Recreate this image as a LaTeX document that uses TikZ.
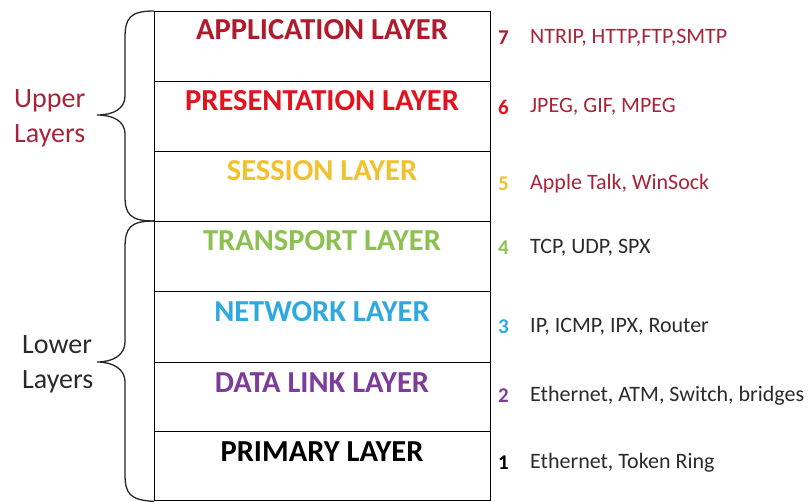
\documentclass[tikz,border=0pt]{standalone}
\usepackage{fontspec}
\setmainfont{Carlito}
\definecolor{appred}{HTML}{B01A2C}
\definecolor{presred}{HTML}{E3121E}
\definecolor{sessyel}{HTML}{F2C12E}
\definecolor{transgrn}{HTML}{8CC152}
\definecolor{netblue}{HTML}{2EA9DF}
\definecolor{linkpurp}{HTML}{7D3C98}
\definecolor{protored}{HTML}{A8243A}
\definecolor{lowgray}{HTML}{2B2B2B}
\begin{document}
\begin{tikzpicture}[x=1pt,y=-1pt,
  row/.style={draw=black, line width=1.4pt, minimum width=336pt, minimum height=70pt, inner sep=0pt, anchor=north west},
  title/.style={font=\fontsize{30.5}{32}\selectfont\bfseries, inner sep=0pt},
  num/.style={font=\fontsize{21}{23}\selectfont\bfseries, inner sep=0pt, anchor=west},
  proto/.style={font=\fontsize{22}{24}\selectfont, inner sep=0pt, anchor=west},
  side/.style={font=\fontsize{28}{35}\selectfont, align=left, inner sep=0pt, anchor=west},
  brace/.style={draw=black!85, line width=1.3pt}]
\useasboundingbox (0,0) rectangle (808,502);
\fill[white] (0,0) rectangle (808,502);

% the seven stacked layer rows
\node[row] (r7) at (154,11) {};
\node[row, minimum height=70pt] (r6) at (154,81) {};
\node[row] (r5) at (154,151) {};
\node[row] (r4) at (154,221) {};
\node[row, minimum height=71pt] (r3) at (154,291) {};
\node[row, minimum height=69pt] (r2) at (154,362) {};
\node[row, minimum height=69pt] (r1) at (154,431) {};

% layer titles
\node[title, text=appred]   (t7) at (322,30)  {APPLICATION LAYER};
\node[title, text=presred]  (t6) at (322,101) {PRESENTATION LAYER};
\node[title, text=sessyel]  (t5) at (322,171) {SESSION LAYER};
\node[title, text=transgrn] (t4) at (322,241) {TRANSPORT LAYER};
\node[title, text=netblue]  (t3) at (322,312) {NETWORK LAYER};
\node[title, text=linkpurp] (t2) at (322,383) {DATA LINK LAYER};
\node[title, text=black]    (t1) at (322,452) {PRIMARY LAYER};

% layer numbers and protocols
\node[num, text=appred]   (n7) at (498,38)  {7};
\node[proto, text=protored] (p7) at (530,38) {NTRIP, HTTP,FTP,SMTP};
\node[num, text=presred]  (n6) at (498,107) {6};
\node[proto, text=protored] (p6) at (530,107) {JPEG, GIF, MPEG};
\node[num, text=sessyel]  (n5) at (498,184) {5};
\node[proto, text=protored] (p5) at (530,184) {Apple Talk, WinSock};
\node[num, text=transgrn] (n4) at (498,248) {4};
\node[proto, text=lowgray] (p4) at (530,248) {TCP, UDP, SPX};
\node[num, text=netblue]  (n3) at (498,327) {3};
\node[proto, text=lowgray] (p3) at (530,327) {IP, ICMP, IPX, Router};
\node[num, text=linkpurp] (n2) at (498,396) {2};
\node[proto, text=lowgray] (p2) at (530,396) {Ethernet, ATM, Switch, bridges};
\node[num, text=black]    (n1) at (498,463) {1};
\node[proto, text=lowgray] (p1) at (530,463) {Ethernet, Token Ring};

% braces grouping upper and lower layers
\draw[brace] (r7.north west) .. controls (130,11) and (125,18) .. (125,38)
  -- (125,96) .. controls (125,109) and (113,115) .. (97,115)
  .. controls (113,115) and (125,121) .. (125,134)
  -- (125,196) .. controls (125,214) and (130,221) .. (r4.north west);
\draw[brace] (r4.north west) .. controls (130,221) and (125,228) .. (125,248)
  -- (125,342) .. controls (125,355) and (113,362) .. (97,362)
  .. controls (113,362) and (125,369) .. (125,382)
  -- (125,474) .. controls (125,494) and (130,500) .. (r1.south west);

% group labels
\node[side, text=protored] (up) at (14,118) {Upper\\Layers};
\node[side, text=lowgray]  (lo) at (22,364) {Lower\\Layers};
\end{tikzpicture}
\end{document}
